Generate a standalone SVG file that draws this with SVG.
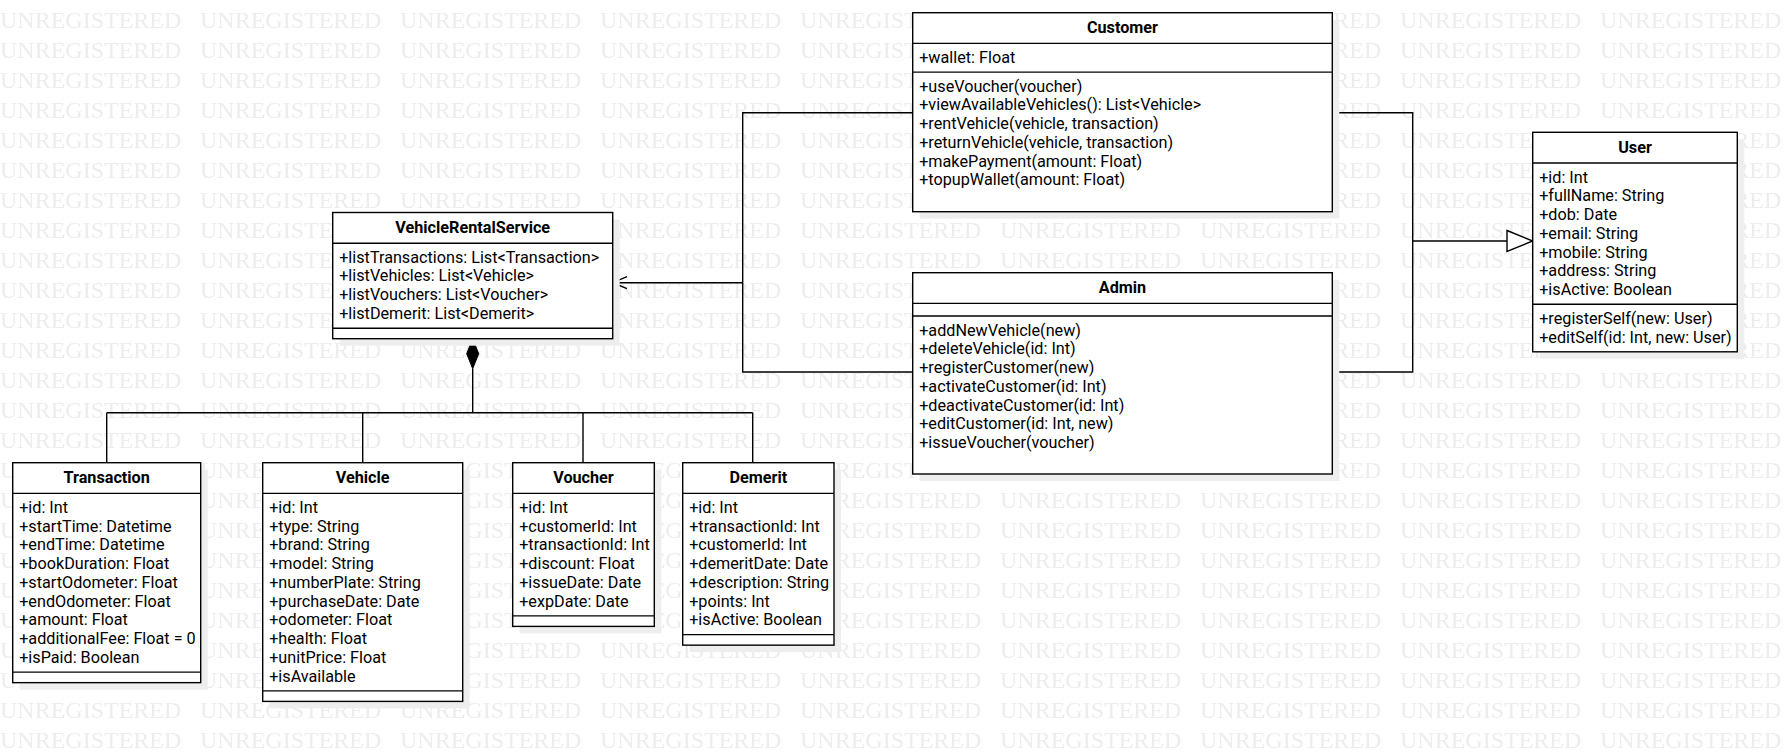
<svg xmlns="http://www.w3.org/2000/svg" width="1786" height="752" viewBox="0 0 1786 752">
<style>
.wm{font-family:"Liberation Serif","Times New Roman",serif;font-size:24px;fill:#ededed}
.box{fill:#fff;stroke:#000;stroke-width:1.4}
.shadow{fill:#eeeeee}
.sep{stroke:#000;stroke-width:1.4}
.t{font-family:Roboto,"Liberation Sans",Arial,sans-serif;font-size:16.2px;fill:#000}
.h{font-family:Roboto,"Liberation Sans",Arial,sans-serif;font-size:16.2px;font-weight:bold;fill:#000;text-anchor:middle}
.ln{fill:none;stroke:#000;stroke-width:1.4}
</style>
<defs>
<pattern id="wm" width="200" height="30" patternUnits="userSpaceOnUse" x="0" y="0">
<text class="wm" x="0" y="28">UNREGISTERED</text>
</pattern>
</defs>
<rect width="1786" height="752" fill="#fff"/>
<rect width="1786" height="752" fill="url(#wm)"/>

<g id="connectors">
<polyline class="ln" points="912.7,112.7 742.7,112.7 742.7,372 912.7,372"/>
<line class="ln" x1="742.7" y1="282.7" x2="612.7" y2="282.7"/>
<polyline class="ln" points="627,276.7 612.7,282.7 627,288.7"/>
<polyline class="ln" points="1332.3,112.7 1412.7,112.7 1412.7,372 1332.3,372"/>
<line class="ln" x1="1412.7" y1="241" x2="1507" y2="241"/>
<polygon points="1507,230.5 1532.7,241 1507,251.5" fill="#fff" stroke="#000" stroke-width="1.4"/>
<polygon points="472.7,338.7 478.7,353.7 472.7,368.7 466.7,353.7" fill="#000" stroke="#000" stroke-width="1"/>
<line class="ln" x1="472.7" y1="368.7" x2="472.7" y2="412.7"/>
<line class="ln" x1="106.7" y1="412.7" x2="752.7" y2="412.7"/>
<line class="ln" x1="106.7" y1="412.7" x2="106.7" y2="462.7"/>
<line class="ln" x1="362.7" y1="412.7" x2="362.7" y2="462.7"/>
<line class="ln" x1="583" y1="412.7" x2="583" y2="462.7"/>
<line class="ln" x1="752.7" y1="412.7" x2="752.7" y2="462.7"/>
</g>

<g id="VehicleRentalService">
<rect class="shadow" x="339.7" y="219.5" width="280" height="126.2"/>
<rect class="box" x="332.7" y="212.5" width="280" height="126.2"/>
<line class="sep" x1="332.7" y1="243.2" x2="612.7" y2="243.2"/>
<line class="sep" x1="332.7" y1="328.2" x2="612.7" y2="328.2"/>
<text class="h" x="472.7" y="233">VehicleRentalService</text>
<text class="t" x="339.2" y="262.7">+listTransactions: List&lt;Transaction&gt;</text>
<text class="t" x="339.2" y="281.45">+listVehicles: List&lt;Vehicle&gt;</text>
<text class="t" x="339.2" y="300.2">+listVouchers: List&lt;Voucher&gt;</text>
<text class="t" x="339.2" y="318.95">+listDemerit: List&lt;Demerit&gt;</text>
</g>

<g id="Customer">
<rect class="shadow" x="919.7" y="19.7" width="419.6" height="199"/>
<rect class="box" x="912.7" y="12.7" width="419.6" height="199"/>
<line class="sep" x1="912.7" y1="43.4" x2="1332.3" y2="43.4"/>
<line class="sep" x1="912.7" y1="72.1" x2="1332.3" y2="72.1"/>
<text class="h" x="1122.5" y="33.2">Customer</text>
<text class="t" x="919.2" y="62.9">+wallet: Float</text>
<text class="t" x="919.2" y="91.6">+useVoucher(voucher)</text>
<text class="t" x="919.2" y="110.35">+viewAvailableVehicles(): List&lt;Vehicle&gt;</text>
<text class="t" x="919.2" y="129.1">+rentVehicle(vehicle, transaction)</text>
<text class="t" x="919.2" y="147.85">+returnVehicle(vehicle, transaction)</text>
<text class="t" x="919.2" y="166.6">+makePayment(amount: Float)</text>
<text class="t" x="919.2" y="185.35">+topupWallet(amount: Float)</text>
</g>

<g id="Admin">
<rect class="shadow" x="919.7" y="279.7" width="419.6" height="201.3"/>
<rect class="box" x="912.7" y="272.7" width="419.6" height="201.3"/>
<line class="sep" x1="912.7" y1="303.4" x2="1332.3" y2="303.4"/>
<line class="sep" x1="912.7" y1="316" x2="1332.3" y2="316"/>
<text class="h" x="1122.5" y="293.2">Admin</text>
<text class="t" x="919.2" y="335.5">+addNewVehicle(new)</text>
<text class="t" x="919.2" y="354.25">+deleteVehicle(id: Int)</text>
<text class="t" x="919.2" y="373">+registerCustomer(new)</text>
<text class="t" x="919.2" y="391.75">+activateCustomer(id: Int)</text>
<text class="t" x="919.2" y="410.5">+deactivateCustomer(id: Int)</text>
<text class="t" x="919.2" y="429.25">+editCustomer(id: Int, new)</text>
<text class="t" x="919.2" y="448">+issueVoucher(voucher)</text>
</g>

<g id="User">
<rect class="shadow" x="1539.7" y="139.3" width="204.6" height="219.5"/>
<rect class="box" x="1532.7" y="132.3" width="204.6" height="219.5"/>
<line class="sep" x1="1532.7" y1="163" x2="1737.3" y2="163"/>
<line class="sep" x1="1532.7" y1="304.25" x2="1737.3" y2="304.25"/>
<text class="h" x="1635" y="152.8">User</text>
<text class="t" x="1539.2" y="182.5">+id: Int</text>
<text class="t" x="1539.2" y="201.25">+fullName: String</text>
<text class="t" x="1539.2" y="220">+dob: Date</text>
<text class="t" x="1539.2" y="238.75">+email: String</text>
<text class="t" x="1539.2" y="257.5">+mobile: String</text>
<text class="t" x="1539.2" y="276.25">+address: String</text>
<text class="t" x="1539.2" y="295">+isActive: Boolean</text>
<text class="t" x="1539.2" y="323.75">+registerSelf(new: User)</text>
<text class="t" x="1539.2" y="342.5">+editSelf(id: Int, new: User)</text>
</g>

<g id="Transaction">
<rect class="shadow" x="19.7" y="469.7" width="188" height="219.95"/>
<rect class="box" x="12.7" y="462.7" width="188" height="219.95"/>
<line class="sep" x1="12.7" y1="493.4" x2="200.7" y2="493.4"/>
<line class="sep" x1="12.7" y1="672.15" x2="200.7" y2="672.15"/>
<text class="h" x="106.7" y="483.2">Transaction</text>
<text class="t" x="19.2" y="512.9">+id: Int</text>
<text class="t" x="19.2" y="531.65">+startTime: Datetime</text>
<text class="t" x="19.2" y="550.4">+endTime: Datetime</text>
<text class="t" x="19.2" y="569.15">+bookDuration: Float</text>
<text class="t" x="19.2" y="587.9">+startOdometer: Float</text>
<text class="t" x="19.2" y="606.65">+endOdometer: Float</text>
<text class="t" x="19.2" y="625.4">+amount: Float</text>
<text class="t" x="19.2" y="644.15">+additionalFee: Float = 0</text>
<text class="t" x="19.2" y="662.9">+isPaid: Boolean</text>
</g>

<g id="Vehicle">
<rect class="shadow" x="269.7" y="469.7" width="200" height="238.7"/>
<rect class="box" x="262.7" y="462.7" width="200" height="238.7"/>
<line class="sep" x1="262.7" y1="493.4" x2="462.7" y2="493.4"/>
<line class="sep" x1="262.7" y1="690.9" x2="462.7" y2="690.9"/>
<text class="h" x="362.7" y="483.2">Vehicle</text>
<text class="t" x="269.2" y="512.9">+id: Int</text>
<text class="t" x="269.2" y="531.65">+type: String</text>
<text class="t" x="269.2" y="550.4">+brand: String</text>
<text class="t" x="269.2" y="569.15">+model: String</text>
<text class="t" x="269.2" y="587.9">+numberPlate: String</text>
<text class="t" x="269.2" y="606.65">+purchaseDate: Date</text>
<text class="t" x="269.2" y="625.4">+odometer: Float</text>
<text class="t" x="269.2" y="644.15">+health: Float</text>
<text class="t" x="269.2" y="662.9">+unitPrice: Float</text>
<text class="t" x="269.2" y="681.65">+isAvailable</text>
</g>

<g id="Voucher">
<rect class="shadow" x="519.7" y="469.7" width="141.6" height="163.7"/>
<rect class="box" x="512.7" y="462.7" width="141.6" height="163.7"/>
<line class="sep" x1="512.7" y1="493.4" x2="654.3" y2="493.4"/>
<line class="sep" x1="512.7" y1="615.9" x2="654.3" y2="615.9"/>
<text class="h" x="583.5" y="483.2">Voucher</text>
<text class="t" x="519.2" y="512.9">+id: Int</text>
<text class="t" x="519.2" y="531.65">+customerId: Int</text>
<text class="t" x="519.2" y="550.4">+transactionId: Int</text>
<text class="t" x="519.2" y="569.15">+discount: Float</text>
<text class="t" x="519.2" y="587.9">+issueDate: Date</text>
<text class="t" x="519.2" y="606.65">+expDate: Date</text>
</g>

<g id="Demerit">
<rect class="shadow" x="689.7" y="469.7" width="151.3" height="182.45"/>
<rect class="box" x="682.7" y="462.7" width="151.3" height="182.45"/>
<line class="sep" x1="682.7" y1="493.4" x2="834" y2="493.4"/>
<line class="sep" x1="682.7" y1="634.65" x2="834" y2="634.65"/>
<text class="h" x="758.3" y="483.2">Demerit</text>
<text class="t" x="689.2" y="512.9">+id: Int</text>
<text class="t" x="689.2" y="531.65">+transactionId: Int</text>
<text class="t" x="689.2" y="550.4">+customerId: Int</text>
<text class="t" x="689.2" y="569.15">+demeritDate: Date</text>
<text class="t" x="689.2" y="587.9">+description: String</text>
<text class="t" x="689.2" y="606.65">+points: Int</text>
<text class="t" x="689.2" y="625.4">+isActive: Boolean</text>
</g>
</svg>
